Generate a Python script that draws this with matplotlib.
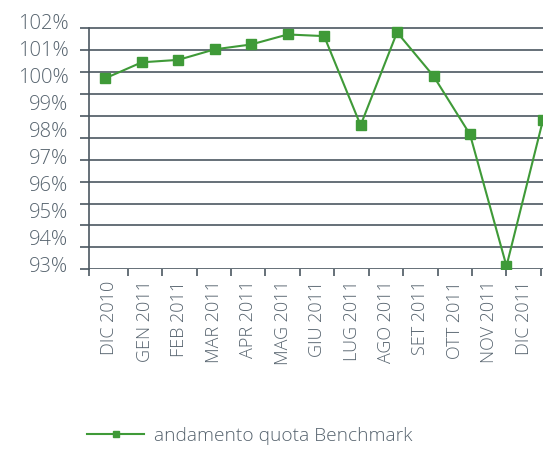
import numpy as np
import matplotlib
matplotlib.use("Agg")
import matplotlib.pyplot as plt
from matplotlib.lines import Line2D

plt.rcParams['font.family'] = ['Open Sans', 'DejaVu Sans']
plt.rcParams['font.weight'] = 'light'

# Data
months = ["DIC 2010", "GEN 2011", "FEB 2011", "MAR 2011", "APR 2011", "MAG 2011",
          "GIU 2011", "LUG 2011", "AGO 2011", "SET 2011", "OTT 2011", "NOV 2011",
          "DIC 2011"]
quota = [99.91, 100.50, 100.59, 100.98, 101.16, 101.53, 101.47,
         98.17, 101.61, 99.99, 97.83, 92.96, 98.36]
y_labels = [f"{v}%" for v in range(93, 103)]
legend_label = "andamento quota Benchmark"

# Colours
green = "#3f9a38"
grid_col = "#4b5761"
text_col = "#56636e"

fig = plt.figure(figsize=(5.43, 4.58), dpi=100)
ax = fig.add_axes([0.1645, 0.412, 0.869, 0.5552])

# y scale: grid rows and the (offset) percent labels
y_bottom, y_top_grid = 92.84, 101.76
ax.set_ylim(y_bottom, 102.25)
ax.set_yticks(np.linspace(y_bottom, y_top_grid, 12))
ax.set_yticklabels([])
ax.set_yticks(range(93, 103), minor=True)
ax.set_yticklabels(y_labels, minor=True)
ax.tick_params(axis='y', which='major', length=6.5, width=1.2, color=grid_col, direction='out')
ax.tick_params(axis='y', which='minor', length=0, pad=15, labelsize=14.5, labelcolor=text_col)
ax.grid(axis='y', which='major', color=grid_col, lw=1.2)

# x scale: category boundaries and label centres
x = np.arange(len(quota))
x_left = -0.4386
bounds = np.r_[x_left, 0.614 + 0.9441 * np.arange(len(months))]
centres = (bounds[:-1] + bounds[1:]) / 2
ax.set_xlim(x_left, 12.5)
ax.set_xticks(bounds)
ax.set_xticklabels([])
ax.set_xticks(centres, minor=True)
ax.set_xticklabels(months, minor=True, rotation=90)
ax.tick_params(axis='x', which='major', length=5, width=1.2, color=grid_col, direction='out')
ax.tick_params(axis='x', which='minor', length=0, pad=8, labelsize=13, labelcolor=text_col)

for s in ['top', 'right', 'bottom']:
    ax.spines[s].set_visible(False)
ax.spines['left'].set_color(grid_col)
ax.spines['left'].set_linewidth(1.2)
ax.spines['left'].set_bounds(y_bottom, y_top_grid)

# Series
ax.plot(x, quota, color=green, lw=1.5, marker='s', ms=6.5, zorder=3)

# Legend
handle = Line2D([], [], color=green, lw=1.5, marker='s', ms=5)
fig.legend([handle], [legend_label], loc='center left', bbox_to_anchor=(0.16, 0.048),
           frameon=False, fontsize=13.8, handlelength=3.0, handletextpad=0.52,
           borderpad=0, borderaxespad=0, labelcolor=text_col)

fig.savefig("out.png", dpi=100)
